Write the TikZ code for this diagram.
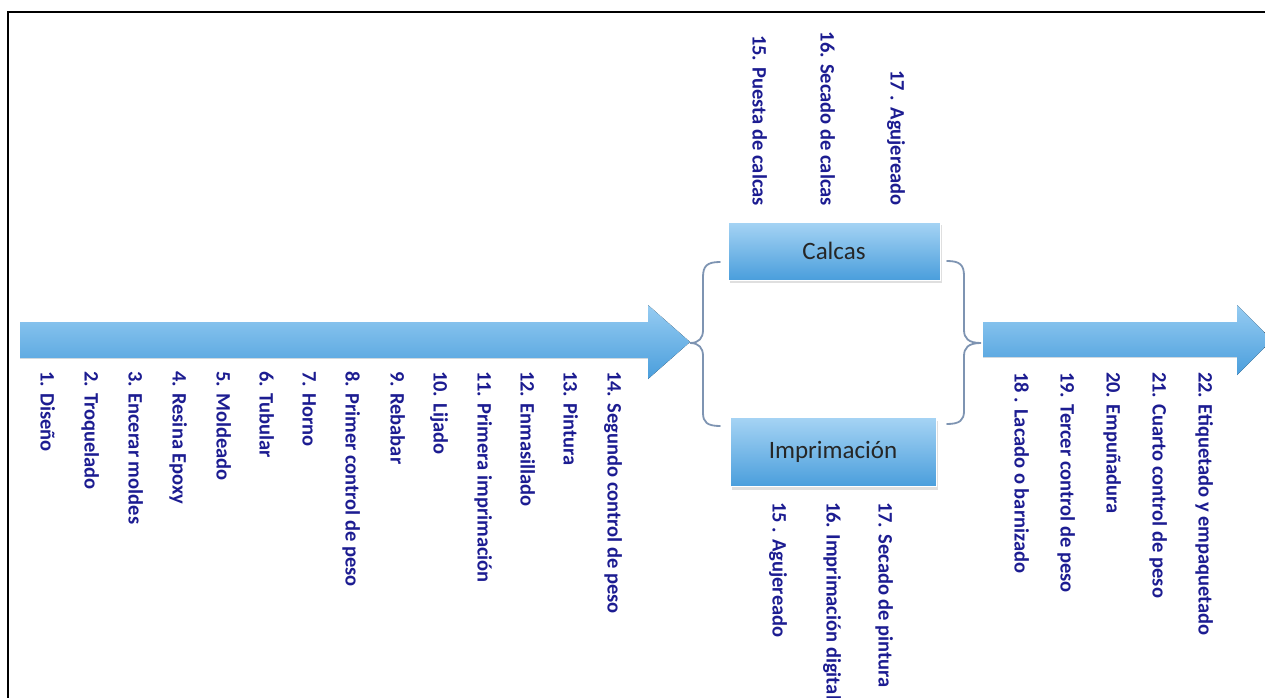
\documentclass[tikz,border=0pt]{standalone}
\usepackage{fontspec}
\setmainfont{Carlito}
\usetikzlibrary{positioning, shapes, shadows}

\definecolor{stagetext}{RGB}{28,28,145}
\definecolor{flowtop}{RGB}{150,204,242}
\definecolor{flowbottom}{RGB}{74,158,220}
\definecolor{bracecol}{RGB}{126,148,178}

\begin{document}
\begin{tikzpicture}[
    x=1pt, y=-1pt,
    % Styles
    stage/.style={ % Rotated step labels
        rotate=-90,
        anchor=mid west,
        inner sep=0pt,
        text=stagetext,
        font=\bfseries\fontsize{20.5}{20.5}\selectfont
    },
    process/.style={ % Calcas / Imprimacion boxes
        rectangle,
        inner sep=0pt,
        top color=flowtop!85!white,
        bottom color=flowbottom,
        draw=white,
        drop shadow={opacity=0.25, shadow xshift=2pt, shadow yshift=-3pt},
        font=\fontsize{25}{25}\selectfont,
        text=black!85
    },
    flow/.style={ % Big process arrows
        top color=flowtop,
        bottom color=flowbottom
    },
    brace/.style={
        draw=bracecol,
        line width=1.8pt,
        line cap=round
    }
]
    \useasboundingbox (0,0) rectangle (1265,698);
    \clip (0,0) rectangle (1265,698);
    \draw[line width=1.6pt] (8,698) -- (8,12) -- (1265,12);

    % Process arrows
    \fill[flow] (20,322) -- (648,322) -- (648,305) -- (690,342) -- (648,379) -- (648,358) -- (20,358) -- cycle;
    \fill[flow] (983,322) -- (1237,322) -- (1237,305) -- (1272,340) -- (1237,375) -- (1237,357) -- (983,357) -- cycle;

    % Branch boxes
    \node[process, minimum width=212pt, minimum height=58pt] (calcas) at (834,251) {Calcas};
    \node[process, minimum width=206pt, minimum height=69pt] (imprimacion) at (833,452) {Imprimación};

    % Braces
    \coordinate (lbtop) at (720,262);
    \coordinate (lbtip) at (690,343);
    \coordinate (lbbot) at (720,426);
    \coordinate (rbtop) at (947,261);
    \coordinate (rbtip) at (981,343);
    \coordinate (rbbot) at (947,424);
    \draw[brace] (lbtop) .. controls (707,262) and (703,266) .. (703,277)
        -- (703,330) .. controls (703,338) and (699,343) .. (lbtip)
        .. controls (699,343) and (703,348) .. (703,356)
        -- (703,413) .. controls (703,422) and (707,426) .. (lbbot);
    \draw[brace] (rbtop) .. controls (960,261) and (964,265) .. (964,276)
        -- (964,330) .. controls (964,338) and (968,343) .. (rbtip)
        .. controls (968,343) and (964,348) .. (964,356)
        -- (964,411) .. controls (964,420) and (960,424) .. (rbbot);

    % Steps before the branch
    \node[stage] (s1) at (43,371) {1. Diseño};
    \node[stage] (s2) at (87,371) {2. Troquelado};
    \node[stage] (s3) at (131,371) {3. Encerar moldes};
    \node[stage] (s4) at (175,371) {4. Resina Epoxy};
    \node[stage] (s5) at (219,371) {5. Moldeado};
    \node[stage] (s6) at (262,371) {6. Tubular};
    \node[stage] (s7) at (305,371) {7. Horno};
    \node[stage] (s8) at (348,371) {8. Primer control de peso};
    \node[stage] (s9) at (393,371) {9. Rebabar};
    \node[stage] (s10) at (436,371) {10. Lijado};
    \node[stage] (s11) at (480,371) {11. Primera imprimación};
    \node[stage] (s12) at (523,371) {12. Enmasillado};
    \node[stage] (s13) at (566,371) {13. Pintura};
    \node[stage] (s14) at (610,371) {14. Segundo control de peso};

    % Calcas branch
    \node[stage, anchor=mid east] (c15) at (755,206) {15. Puesta de calcas};
    \node[stage, anchor=mid east] (c16) at (823,206) {16. Secado de calcas};
    \node[stage, anchor=mid east] (c17) at (893,206) {17 . Agujereado};

    % Imprimacion branch
    \node[stage] (i15) at (775,502) {15 . Agujereado};
    \node[stage] (i16) at (829,502) {16. Imprimación digital};
    \node[stage] (i17) at (881,502) {17. Secado de pintura};

    % Steps after the branch
    \node[stage] (s18) at (1017,372) {18 . Lacado o barnizado};
    \node[stage] (s19) at (1063,372) {19. Tercer control de peso};
    \node[stage] (s20) at (1109,372) {20. Empuñadura};
    \node[stage] (s21) at (1155,372) {21. Cuarto control de peso};
    \node[stage] (s22) at (1201,372) {22. Etiquetado y empaquetado};
\end{tikzpicture}
\end{document}
